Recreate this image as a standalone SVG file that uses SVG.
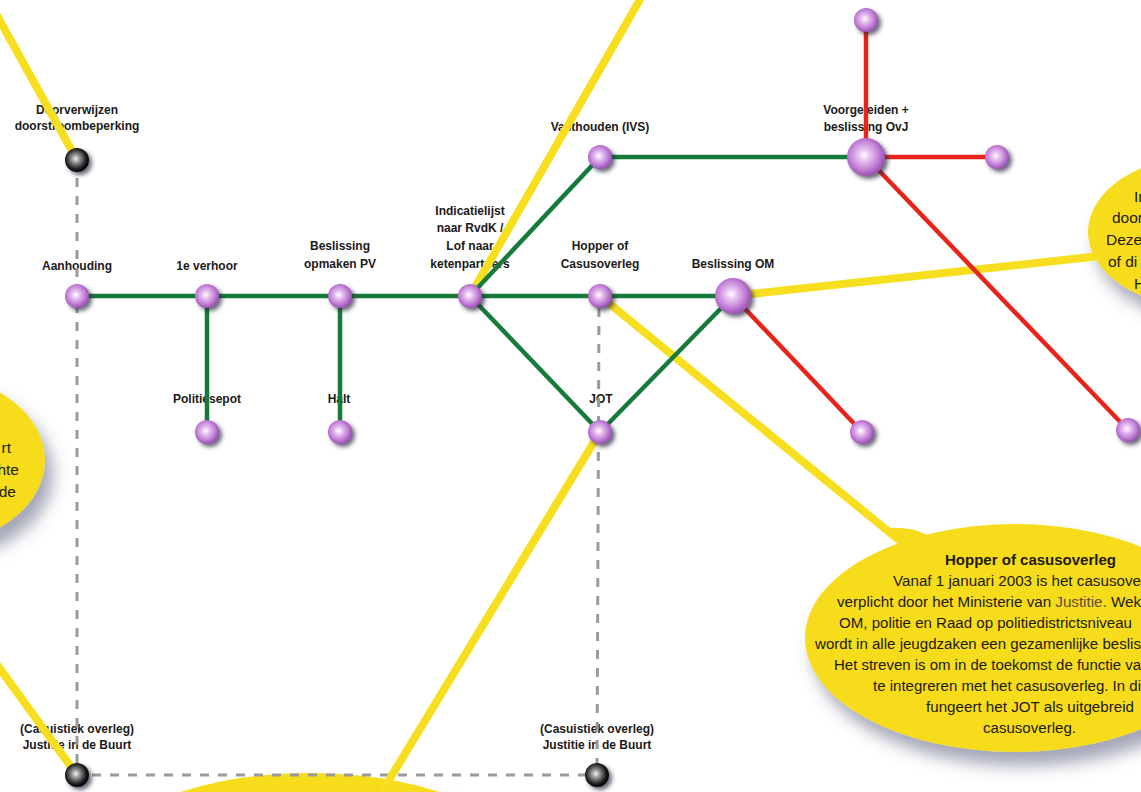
<svg xmlns="http://www.w3.org/2000/svg" width="1141" height="792" viewBox="0 0 1141 792">
<style>
.lbl{font-family:"Liberation Sans",Arial,sans-serif;font-weight:bold;font-size:12px;fill:#1a1a1a;text-anchor:middle}
.bt{font-family:"Liberation Sans Narrow","Liberation Sans",Arial,sans-serif;font-size:15.5px;fill:#231a08}
.btb{font-family:"Liberation Sans Narrow","Liberation Sans",Arial,sans-serif;font-size:15.5px;font-weight:bold;fill:#231a08}
.bub{fill:#f7dc1e}
.y{stroke:#f7df1f;stroke-width:8;fill:none;stroke-linecap:round}
.g{stroke:#167a3a;stroke-width:4.5;fill:none}
.r{stroke:#e8231b;stroke-width:4.5;fill:none}
.d{stroke:#9a9a9a;stroke-width:3;fill:none;stroke-dasharray:9 9}
.pn{fill:url(#pg);filter:url(#ns)}
.bn{fill:url(#bg);filter:url(#ns)}
</style>
<defs>
<radialGradient id="pg" cx="0.45" cy="0.45" r="0.55">
<stop offset="0" stop-color="#ffffff"/>
<stop offset="0.3" stop-color="#e6bff0"/>
<stop offset="0.7" stop-color="#c27fd6"/>
<stop offset="1" stop-color="#9a52b2"/>
</radialGradient>
<radialGradient id="bg" cx="0.45" cy="0.45" r="0.55">
<stop offset="0" stop-color="#f0f0f0"/>
<stop offset="0.35" stop-color="#8a8a8a"/>
<stop offset="0.75" stop-color="#222"/>
<stop offset="1" stop-color="#000"/>
</radialGradient>
<filter id="ns" x="-60%" y="-60%" width="220%" height="220%">
<feDropShadow dx="3" dy="3" stdDeviation="2" flood-color="#2a2a40" flood-opacity="0.7"/>
</filter>
<filter id="bs" x="-30%" y="-30%" width="170%" height="180%">
<feDropShadow dx="8" dy="14" stdDeviation="8" flood-color="#4a5070" flood-opacity="0.5"/>
</filter>
</defs>
<rect width="1141" height="792" fill="#ffffff"/>

<g id="bubble-left">
<ellipse class="bub" cx="-70" cy="460" rx="115" ry="85" filter="url(#bs)"/>
<text class="bt" font-size="17" text-anchor="end" x="11" y="453">rt</text>
<text class="bt" font-size="17" text-anchor="end" x="19" y="475">hte</text>
<text class="bt" font-size="17" text-anchor="end" x="16" y="497">de</text>
</g>

<g id="bubble-right">
<ellipse class="bub" cx="1205" cy="232" rx="117" ry="76" filter="url(#bs)"/>
<text class="bt" font-size="17" x="1134" y="202">In</text>
<text class="bt" font-size="17" x="1112" y="223">door</text>
<text class="bt" font-size="17" x="1106" y="245">Deze</text>
<text class="bt" font-size="17" x="1108" y="267">of di</text>
<text class="bt" font-size="17" x="1134" y="289">H</text>
</g>

<g id="bubble-bottom">
<ellipse class="bub" cx="310" cy="883" rx="230" ry="110" filter="url(#bs)"/>
</g>

<g id="labels">
<text class="lbl" x="77" y="114">Doorverwijzen</text>
<text class="lbl" x="77" y="130">doorstroombeperking</text>
<text class="lbl" x="77" y="270">Aanhouding</text>
<text class="lbl" x="207" y="270">1e verhoor</text>
<text class="lbl" x="340" y="250">Beslissing</text>
<text class="lbl" x="340" y="268">opmaken PV</text>
<text class="lbl" x="470" y="215">Indicatielijst</text>
<text class="lbl" x="470" y="232">naar RvdK /</text>
<text class="lbl" x="470" y="250">Lof naar</text>
<text class="lbl" x="470" y="268">ketenpartners</text>
<text class="lbl" x="600" y="250">Hopper of</text>
<text class="lbl" x="600" y="268">Casusoverleg</text>
<text class="lbl" x="733" y="268">Beslissing OM</text>
<text class="lbl" x="600" y="131">Vasthouden (IVS)</text>
<text class="lbl" x="866" y="114">Voorgeleiden +</text>
<text class="lbl" x="866" y="131">beslissing OvJ</text>
<text class="lbl" x="207" y="403">Politiesepot</text>
<text class="lbl" x="339" y="403">Halt</text>
<text class="lbl" x="601" y="403">JOT</text>
<text class="lbl" x="77" y="733">(Casuistiek overleg)</text>
<text class="lbl" x="77" y="749">Justitie in de Buurt</text>
<text class="lbl" x="597" y="733">(Casuistiek overleg)</text>
<text class="lbl" x="597" y="749">Justitie in de Buurt</text>
</g>

<g id="connectors">
<line class="d" x1="77" y1="178" x2="77" y2="765"/>
<line class="d" x1="92" y1="775" x2="585" y2="775"/>
<line class="d" x1="599" y1="308" x2="597" y2="765"/>
<line class="y" x1="-5" y1="12" x2="77" y2="160"/>
<line class="y" x1="470" y1="296" x2="642" y2="-4"/>
<line class="y" x1="733" y1="296" x2="1100" y2="256"/>
<line class="y" x1="600" y1="296" x2="905" y2="545"/>
<line class="y" x1="600" y1="432" x2="383" y2="790"/>
<line class="y" x1="-5" y1="662" x2="77" y2="775"/>
<line class="g" x1="77" y1="296" x2="733" y2="296"/>
<line class="g" x1="207" y1="296" x2="207" y2="432"/>
<line class="g" x1="340" y1="296" x2="340" y2="432"/>
<line class="g" x1="470" y1="296" x2="600" y2="157"/>
<line class="g" x1="600" y1="157" x2="866" y2="157"/>
<line class="g" x1="470" y1="296" x2="600" y2="432"/>
<line class="g" x1="600" y1="432" x2="733" y2="296"/>
<line class="r" x1="866" y1="20" x2="866" y2="157"/>
<line class="r" x1="866" y1="157" x2="997" y2="157"/>
<line class="r" x1="866" y1="157" x2="1128" y2="430"/>
<line class="r" x1="733" y1="296" x2="862" y2="432"/>
</g>

<g id="bubble-hopper">
<ellipse class="bub" cx="1015" cy="638" rx="210" ry="114" filter="url(#bs)"/>
<path class="bub" d="M884 528 Q900 527 915 530 L935 538 L905 548 Z"/>
<text class="btb" x="945" y="565" textLength="171" lengthAdjust="spacingAndGlyphs">Hopper of casusoverleg</text>
<text class="bt" x="893" y="586" textLength="248" lengthAdjust="spacingAndGlyphs">Vanaf 1 januari 2003 is het casusove</text>
<text class="bt" x="837" y="607" textLength="304" lengthAdjust="spacingAndGlyphs">verplicht door het Ministerie van <tspan fill="#5e4f3a">Justitie.</tspan> Wek</text>
<text class="bt" x="839" y="628" textLength="293" lengthAdjust="spacingAndGlyphs">OM, politie en Raad op politiedistrictsniveau</text>
<text class="bt" x="815" y="649" textLength="326" lengthAdjust="spacingAndGlyphs">wordt in alle jeugdzaken een gezamenlijke beslis</text>
<text class="bt" x="834" y="670" textLength="307" lengthAdjust="spacingAndGlyphs">Het streven is om in de toekomst de functie va</text>
<text class="bt" x="873" y="691" textLength="268" lengthAdjust="spacingAndGlyphs">te integreren met het casusoverleg. In di</text>
<text class="bt" x="926" y="712" textLength="208" lengthAdjust="spacingAndGlyphs">fungeert het JOT als uitgebreid</text>
<text class="bt" x="983" y="733" textLength="93" lengthAdjust="spacingAndGlyphs">casusoverleg.</text>
</g>

<g id="node-doorverwijzen"><circle class="bn" cx="77" cy="160" r="12"/></g>
<g id="node-aanhouding"><circle class="pn" cx="77" cy="296" r="12"/></g>
<g id="node-1e-verhoor"><circle class="pn" cx="207" cy="296" r="12"/></g>
<g id="node-beslissing-pv"><circle class="pn" cx="340" cy="296" r="12"/></g>
<g id="node-indicatielijst"><circle class="pn" cx="470" cy="296" r="12"/></g>
<g id="node-hopper"><circle class="pn" cx="600" cy="296" r="12"/></g>
<g id="node-beslissing-om"><circle class="pn" cx="733" cy="296" r="18"/></g>
<g id="node-vasthouden"><circle class="pn" cx="600" cy="157" r="12"/></g>
<g id="node-voorgeleiden"><circle class="pn" cx="866" cy="157" r="19"/></g>
<g id="node-top"><circle class="pn" cx="866" cy="20" r="12"/></g>
<g id="node-right"><circle class="pn" cx="997" cy="157" r="12"/></g>
<g id="node-politiesepot"><circle class="pn" cx="207" cy="432" r="12"/></g>
<g id="node-halt"><circle class="pn" cx="340" cy="432" r="12"/></g>
<g id="node-jot"><circle class="pn" cx="600" cy="432" r="12"/></g>
<g id="node-om-end"><circle class="pn" cx="862" cy="432" r="12"/></g>
<g id="node-far-right"><circle class="pn" cx="1128" cy="430" r="12"/></g>
<g id="node-jidb-left"><circle class="bn" cx="77" cy="775" r="12"/></g>
<g id="node-jidb-right"><circle class="bn" cx="597" cy="775" r="12"/></g>
</svg>
